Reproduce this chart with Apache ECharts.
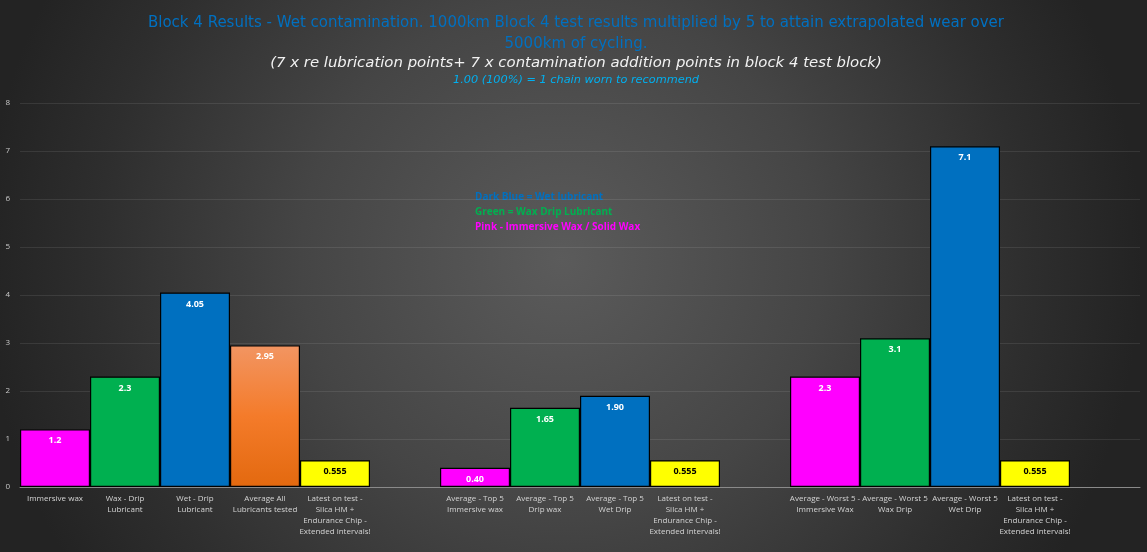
<!DOCTYPE html>
<html>
<head>
<meta charset="utf-8">
<script src="https://cdn.jsdelivr.net/npm/echarts@6/dist/echarts.min.js"></script>
<style>
  html, body { margin: 0; padding: 0; background: #222; }
  #chart { width: 1147px; height: 552px; }
</style>
</head>
<body>
<div id="chart"></div>
<script>
// categories ('' = spacer between groups)
var categories = [
  'Immersive wax', 'Wax - Drip\nLubricant', 'Wet - Drip\nLubricant', 'Average All\nLubricants tested',
  'Latest on test -\nSilca HM +\nEndurance Chip -\nExtended intervals!',
  '',
  'Average - Top 5\nImmersive wax', 'Average - Top 5\nDrip wax', 'Average - Top 5\nWet Drip',
  'Latest on test -\nSilca HM +\nEndurance Chip -\nExtended intervals!',
  '',
  'Average - Worst 5 -\nImmersive Wax', 'Average - Worst 5\nWax Drip', 'Average - Worst 5\nWet Drip',
  'Latest on test -\nSilca HM +\nEndurance Chip -\nExtended intervals!',
  ''
];
var wear = [1.2, 2.3, 4.05, 2.95, 0.555, null, 0.40, 1.65, 1.90, 0.555, null, 2.3, 3.1, 7.1, 0.555, null];
var wearLabels = ['1.2', '2.3', '4.05', '2.95', '0.555', '', '0.40', '1.65', '1.90', '0.555', '', '2.3', '3.1', '7.1', '0.555', ''];
// kind of lubricant for each bar, decides the colour
var kinds = ['pink', 'green', 'blue', 'orange', 'yellow', '', 'pink', 'green', 'blue', 'yellow', '', 'pink', 'green', 'blue', 'yellow', ''];
var yTicks = [0, 1, 2, 3, 4, 5, 6, 7, 8];

var colours = {
  pink: '#FF00FF',
  green: '#00B050',
  blue: '#0070C0',
  yellow: '#FFFF00',
  orange: new echarts.graphic.LinearGradient(0, 0, 0, 1, [
    { offset: 0, color: '#F29562' },
    { offset: 0.5, color: '#F47B2A' },
    { offset: 1, color: '#E3690F' }
  ])
};

var barData = wear.map(function (v, i) {
  return {
    value: v,
    itemStyle: { color: colours[kinds[i]] || 'transparent' },
    label: {
      formatter: wearLabels[i],
      color: kinds[i] === 'yellow' ? '#000' : '#fff'
    }
  };
});

function titleLine(text, y, size, fill, italic) {
  return {
    type: 'text',
    x: 576,
    y: y,
    style: {
      text: text,
      fill: fill,
      font: (italic ? 'italic ' : '') + size + 'px "DejaVu Sans"',
      align: 'center',
      verticalAlign: 'middle',
      shadowColor: 'rgba(0,0,0,0.85)',
      shadowBlur: 2,
      shadowOffsetX: 1,
      shadowOffsetY: 1
    }
  };
}

var chart = echarts.init(document.getElementById('chart'));
chart.setOption({
  animation: false,
  backgroundColor: new echarts.graphic.RadialGradient(0.49, 0.47, 1.05, [
    { offset: 0, color: '#5b5b5b' },
    { offset: 0.45, color: '#454545' },
    { offset: 0.8, color: '#2e2e2e' },
    { offset: 1, color: '#232323' }
  ]),
  graphic: [
    titleLine('Block 4 Results - Wet contamination. 1000km Block 4 test results multiplied by 5 to attain extrapolated wear over', 23, 15, '#0070C0', false),
    titleLine('5000km of cycling.', 44, 15, '#0070C0', false),
    titleLine('(7 x re lubrication points+ 7 x contamination addition points in block 4 test block)', 63, 14.9, '#f2f2f2', true),
    titleLine('1.00 (100%) = 1 chain worn to recommend', 80, 11.3, '#00B0F0', true),
    {
      type: 'text',
      left: 475,
      top: 192,
      style: {
        text: '{b|Dark Blue = Wet lubricant}\n{g|Green = Wax Drip Lubricant}\n{p|Pink - Immersive Wax / Solid Wax}',
        rich: {
          b: { fill: '#0070C0', fontSize: 10, fontWeight: 'bold', fontFamily: 'Open Sans', lineHeight: 15 },
          g: { fill: '#00B050', fontSize: 10, fontWeight: 'bold', fontFamily: 'Open Sans', lineHeight: 15 },
          p: { fill: '#FF00FF', fontSize: 10, fontWeight: 'bold', fontFamily: 'Open Sans', lineHeight: 15 }
        }
      }
    }
  ],
  grid: { left: 20, right: 7, top: 103, bottom: 65 },
  xAxis: {
    type: 'category',
    data: categories,
    axisTick: { show: false },
    axisLine: { lineStyle: { color: '#8a8a8a', width: 1 } },
    axisLabel: {
      interval: 0,
      color: '#d4d4d4',
      fontSize: 8,
      lineHeight: 11,
      fontFamily: 'Open Sans',
      margin: 6,
      verticalAlign: 'top'
    }
  },
  yAxis: {
    type: 'value',
    min: yTicks[0],
    max: yTicks[yTicks.length - 1],
    interval: 1,
    axisLine: { show: false },
    axisTick: { show: false },
    splitLine: { lineStyle: { color: 'rgba(255,255,255,0.09)' } },
    axisLabel: {
      color: '#c8c8c8',
      fontSize: 8,
      fontFamily: 'Open Sans',
      margin: 10
    }
  },
  series: [{
    type: 'bar',
    data: barData,
    barWidth: '100%',
    itemStyle: { borderColor: '#000', borderWidth: 1.2 },
    label: {
      show: true,
      position: 'insideTop',
      distance: 7,
      fontSize: 9,
      fontWeight: 'bold',
      fontFamily: 'Open Sans'
    }
  }]
});
</script>
</body>
</html>
